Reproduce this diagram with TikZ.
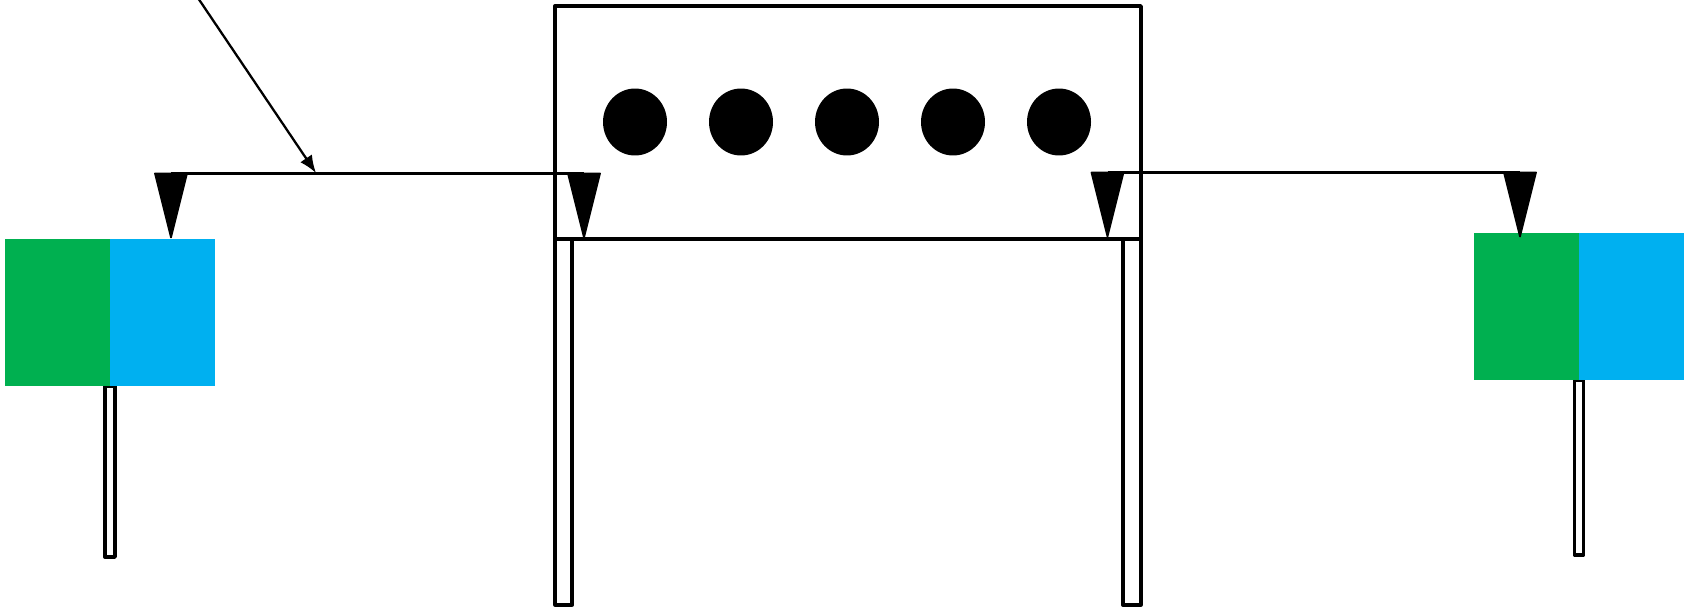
\documentclass[tikz,border=0pt]{standalone}
\usepackage{xcolor}
\definecolor{padgreen}{HTML}{00B050}
\definecolor{padblue}{HTML}{00B0F0}
\usepackage{tikz}
\usetikzlibrary{
  arrows.meta,
  positioning,
  shapes.geometric,
  backgrounds
}

\begin{document}
\begin{tikzpicture}[
  x=0.02cm, y=-0.02cm,
  padblock/.style={rectangle, inner sep=0pt, outer sep=0pt, minimum width=2.1cm, minimum height=2.94cm},
  postbar/.style={rectangle, draw=black, fill=white, line width=2.2pt, line join=round, inner sep=0pt, outer sep=0pt},
  boxframe/.style={rectangle, draw=black, line width=2pt, line join=round, inner sep=0pt, outer sep=0pt, minimum width=11.72cm, minimum height=4.66cm},
  legbar/.style={rectangle, draw=black, fill=white, line width=2pt, line join=round, inner sep=0pt, outer sep=0pt},
  ball/.style={ellipse, fill=black, inner sep=0pt, minimum width=1.28cm, minimum height=1.34cm},
  elec/.style={fill=black, draw=black, line width=1pt, line join=round},
  wire/.style={draw=black, line width=1.3pt},
  arr/.style={-{Latex[length=10pt, width=8pt]}, line width=1.3pt},
]
\useasboundingbox (0,0) rectangle (1692,608);

% Pads (left)
\node[padblock, fill=padgreen, anchor=north west] (greenL) at (5,239) {};
\node[padblock, fill=padblue, right=0pt of greenL] (blueL) {};

% Pads (right)
\node[padblock, fill=padgreen, anchor=north west] (greenR) at (1474,233) {};
\node[padblock, fill=padblue, right=0pt of greenR] (blueR) {};

% Posts under the pads
\begin{scope}[on background layer]
\node[postbar, minimum width=0.2cm, minimum height=3.42cm, anchor=north] (postL) at (greenL.south east) {};
\node[postbar, minimum width=0.18cm, minimum height=3.5cm, anchor=north] (postR) at (greenR.south east) {};
\end{scope}

% Frame with legs
\node[boxframe] (box) at (848,122.5) {};
\node[legbar, minimum width=0.34cm, minimum height=7.32cm, anchor=north west] (legL) at (box.south west) {};
\node[legbar, minimum width=0.36cm, minimum height=7.32cm, anchor=north east] (legR) at (box.south east) {};

% Balls
\foreach \i in {0,...,4}
  \node[ball] (ball\i) at (635+106*\i,122) {};

% Electrodes
\coordinate (elecL) at (171,173.5);
\coordinate (elecLi) at (584,173.5);
\coordinate (elecRi) at (1107.5,172.5);
\coordinate (elecR) at (1520,172.5);

% Wires
\draw[wire] (elecL) -- (elecLi);
\draw[wire] (elecRi) -- (elecR);

\foreach \e in {elecL, elecLi, elecRi, elecR}
  \filldraw[elec] (\e) ++(-16,0) -- ++(32,0) -- ++(-16,64) -- cycle;

% Arrow
\coordinate (src) at (198,-2);
\coordinate (hit) at (316,173);
\draw[arr] (src) -- (hit);

\end{tikzpicture}
\end{document}
